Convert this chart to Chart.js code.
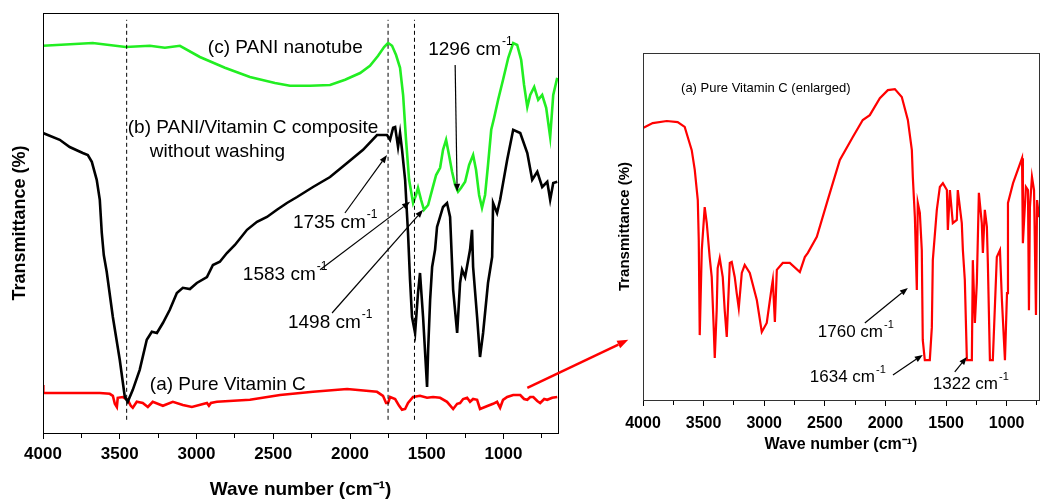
<!DOCTYPE html>
<html lang="en">
<head>
<meta charset="UTF-8">
<title>FTIR spectra - PANI / Vitamin C</title>
<script src="https://cdn.jsdelivr.net/npm/chart.js"></script>
<style>
  body { margin: 0; background: #fff; }
  #wrap { position: relative; width: 1040px; height: 504px; }
  #wrap canvas { position: absolute; left: 0; top: 0; }
</style>
</head>
<body>
<div id="wrap">
  <canvas id="mainChart" width="1040" height="504"></canvas>
  <canvas id="zoomChart" width="1040" height="504"></canvas>
</div>
<script>
// ---- values: [wavenumber (cm-1), transmittance (arb. %)] ----
const tickStep = 250;
const labelStep = 500;
const dashedBands = [3455, 1752, 1580];

// (c) PANI nanotube
const nanotubeC = [[4000,96.8],[3676,97.5],[3461,96.5],[3304,96.8],[3206,96.3],[3108,96.8],[2978,94],[2815,91.3],
  [2652,89],[2489,87.5],[2391,86.8],[2261,86.8],[2130,87],[2032,88.3],[1934,90],[1870,91.8],[1817,94.3],[1778,96.5],
  [1752,97.5],[1726,96.8],[1700,94.5],[1674,91.3],[1654,84.5],[1635,73.3],[1615,63.3],[1589,57.5],[1570,59.5],
  [1557,61.3],[1537,58.3],[1518,55.8],[1491,57],[1465,60.8],[1439,64.5],[1413,66.3],[1394,70.8],[1374,73.3],
  [1355,69.5],[1335,65.3],[1315,62],[1296,60.3],[1276,61.3],[1250,62.8],[1224,67],[1198,69.5],[1179,65.8],
  [1159,59.5],[1140,56.3],[1120,59.5],[1101,67],[1080,75.8],[1061,78.8],[1035,83.3],[1003,88.3],[969,93.8],
  [937,97.5],[911,97],[885,93.3],[866,87],[845,81.5],[826,84.5],[800,86.5],[774,83.3],[748,84.5],[722,81.3],
  [696,74],[676,84.5],[650,88.8]];

// (b) PANI/Vitamin C composite without washing
const compositeB = [[4000,75],[3891,73.3],[3826,71.5],[3741,70],[3708,69.5],[3682,67.8],[3650,63.3],[3630,58.3],
  [3617,50],[3604,44.5],[3585,40.3],[3545,29],[3500,18.3],[3467,9],[3448,7.8],[3415,10.8],[3370,15.8],[3324,23.3],
  [3291,25.3],[3258,25],[3219,27.5],[3174,30.8],[3128,35],[3089,36.3],[3043,36],[2998,37.5],[2932,39],[2893,42],
  [2848,42.8],[2802,45],[2750,47],[2671,50.8],[2606,52.8],[2541,54],[2476,55.8],[2411,57.5],[2345,59],[2241,61.5],
  [2130,64],[2019,67.5],[1915,70.8],[1824,74.5],[1759,74.5],[1739,73.3],[1719,76.3],[1706,76.5],[1687,71.5],
  [1674,75],[1661,70.8],[1641,63.3],[1622,50],[1609,38.3],[1596,29],[1576,25],[1557,35],[1544,40],[1524,29],
  [1498,11.5],[1491,20.8],[1478,33.3],[1465,41.5],[1446,45.8],[1433,51.5],[1394,56.5],[1368,57.5],[1348,54],
  [1328,35.8],[1302,25],[1283,37.5],[1270,40.8],[1250,39],[1218,45.8],[1205,50.8],[1198,41.5],[1172,29],[1153,19],
  [1133,25],[1101,37.5],[1074,44],[1068,57.5],[1042,55],[1022,58.3],[976,68.3],[937,75.8],[891,75],[845,70],
  [813,63.3],[780,65.3],[748,61.5],[715,62.8],[696,58.3],[676,62.5],[650,62.8]];

// (a) Pure Vitamin C
const pureVitC = [[4000,12],[3998,10],[3826,10],[3630,10],[3565,9.8],[3545,9.3],[3532,7.3],[3519,6.5],[3513,8.8],
  [3480,9],[3448,8.3],[3428,6.8],[3415,6.3],[3389,7.8],[3350,7.5],[3317,6.5],[3285,7.8],[3219,6.8],[3154,7.8],
  [3089,7],[3030,6.5],[2932,7.5],[2919,6.8],[2906,7.5],[2867,7.8],[2652,8.3],[2456,9.5],[2241,10.3],[2019,11],
  [1824,10.3],[1785,9.3],[1765,7.5],[1752,7.5],[1739,9],[1706,8.5],[1680,6.8],[1661,5.8],[1641,6],[1622,7.5],
  [1589,9],[1544,9.3],[1498,8.8],[1459,9],[1413,8.8],[1368,7.8],[1328,6],[1302,7.3],[1283,7.5],[1263,8.5],
  [1237,8.8],[1218,7.8],[1198,8.5],[1172,8.3],[1153,6],[1133,6.3],[1101,6.8],[1068,7.3],[1042,7.8],[1022,6.3],
  [1003,8.3],[976,9],[937,9.5],[891,9.5],[866,8.5],[845,8.3],[826,9],[806,9],[780,8],[761,7.5],[735,8.5],
  [715,8.3],[683,8.8],[650,9]];

// (a) Pure Vitamin C, enlarged
const pureVitCEnlarged = [[4000,78.4],[3920,79.8],[3804,80.4],[3714,80.1],[3656,78.7],[3631,75.8],[3598,72],
  [3573,66.3],[3548,57.6],[3540,46],[3532,18.7],[3515,43.2],[3491,55.6],[3474,51],[3450,41.2],[3433,35.4],
  [3416,20.2],[3408,12.1],[3392,25.9],[3384,38],[3367,40.9],[3342,35.4],[3326,25.9],[3309,18.2],[3284,39.5],
  [3268,39.8],[3243,35.4],[3227,30.8],[3210,26.5],[3185,36.6],[3161,38.9],[3119,36.6],[3061,28.8],[3020,19.6],
  [2979,22.2],[2938,32.6],[2929,34.6],[2912,22.5],[2896,37.5],[2847,39.5],[2789,39.5],[2706,36.9],[2665,41.2],
  [2640,42.4],[2566,47],[2483,56.8],[2434,62.5],[2376,69.2],[2269,75.8],[2187,80.7],[2129,82.1],[2046,87],
  [1980,89.3],[1922,89.6],[1865,87.3],[1815,80.7],[1782,72],[1774,64.3],[1757,52.7],[1741,31.7],[1733,56.8],
  [1716,53.9],[1700,43.2],[1692,17.3],[1675,11.5],[1634,11.5],[1617,21],[1609,40.3],[1576,54.8],[1551,61.4],
  [1526,62.5],[1493,60.5],[1485,49],[1468,60.5],[1444,51],[1411,51.9],[1403,60.5],[1370,51],[1361,43.2],
  [1345,34.6],[1328,11.5],[1287,11.5],[1279,40.3],[1262,22.2],[1246,33.7],[1229,59.7],[1205,51],[1196,42.4],
  [1180,54.8],[1163,49.9],[1155,39.5],[1138,11.5],[1114,11.5],[1081,41.2],[1055,43.2],[1039,28.8],[1014,11.5],
  [997,30.8],[989,56.8],[947,62.5],[873,69.7],[866,45.2],[841,61.4],[824,60.5],[816,25.9],[808,55.6],[791,64.3],
  [774,60.5],[758,24.5],[749,57.6],[733,52.7]];

const FONT = "'Liberation Sans', Arial, sans-serif";
Chart.defaults.font.family = FONT;
Chart.defaults.color = '#000';

const toXY = arr => arr.map(([x, y]) => ({ x: x, y: y }));

function drawLabel(ctx, text, sup, x, y, size, color) {
  ctx.fillStyle = color || '#000';
  ctx.textAlign = 'left';
  ctx.textBaseline = 'middle';
  ctx.font = size + 'px ' + FONT;
  ctx.fillText(text, x, y);
  if (sup) {
    const w = ctx.measureText(text).width;
    ctx.font = Math.round(size * 0.62) + 'px ' + FONT;
    ctx.fillText(sup, x + w + 1, y - size * 0.42);
  }
}

function drawArrow(ctx, x0, y0, x1, y1, color, width, head) {
  const ang = Math.atan2(y1 - y0, x1 - x0);
  const bx = x1 - head * Math.cos(ang), by = y1 - head * Math.sin(ang);
  const hw = head * 0.38;
  ctx.strokeStyle = color; ctx.fillStyle = color; ctx.lineWidth = width;
  ctx.beginPath(); ctx.moveTo(x0, y0); ctx.lineTo(bx, by); ctx.stroke();
  ctx.beginPath();
  ctx.moveTo(x1, y1);
  ctx.lineTo(bx + hw * Math.sin(ang), by - hw * Math.cos(ang));
  ctx.lineTo(bx - hw * Math.sin(ang), by + hw * Math.cos(ang));
  ctx.closePath(); ctx.fill();
}

// frame + text labels + arrows, placed through the chart's own scales
const notesPlugin = {
  id: 'notes',
  afterDraw(chart, args, opts) {
    const { ctx, chartArea: a, scales: { x, y } } = chart;
    const px = p => [x.getPixelForValue(p[0]), y.getPixelForValue(p[1])];
    ctx.save();
    ctx.strokeStyle = opts.frame;
    ctx.lineWidth = 1;
    ctx.strokeRect(Math.round(a.left) + 0.5, Math.round(a.top) + 0.5, Math.round(a.right - a.left), Math.round(a.bottom - a.top));
    opts.arrows.forEach(ar => {
      const f = px(ar.from), t = px(ar.to);
      drawArrow(ctx, f[0], f[1], t[0], t[1], ar.color || '#000', ar.width || 1.2, ar.head || 8);
    });
    opts.labels.forEach(l => {
      const p = px(l.at);
      drawLabel(ctx, l.text, l.sup, p[0], p[1], l.size, l.color);
    });
    ctx.restore();
  }
};

function wnAxis(min, tickSize, titleSize, height, tickPad) {
  return {
    type: 'linear', reverse: true, min: min, max: 4000,
    // ticks every 250 cm-1, labels every 500
    afterBuildTicks: s => {
      const ticks = [];
      for (let v = Math.ceil(s.min / tickStep) * tickStep; v <= s.max; v += tickStep) ticks.push({ value: v });
      s.ticks = ticks;
    },
    afterFit: s => { s.height = height; },
    ticks: {
      stepSize: tickStep, autoSkip: false, maxRotation: 0, padding: tickPad,
      font: { size: tickSize, weight: 'bold' },
      callback: v => (v % labelStep === 0 ? String(v) : '')
    },
    grid: {
      drawOnChartArea: false, tickLength: 6, color: '#000',
      tickBorderDash: c => (c.tick && c.tick.value % labelStep !== 0 ? [4, 20] : [])
    },
    border: { color: '#000', width: 1 },
    title: { display: true, text: 'Wave number (cm\u207B\u00B9)', font: { size: titleSize, weight: 'bold' }, padding: 0 }
  };
}

function tAxis(max, titleSize, pad) {
  return {
    min: 0, max: max,
    afterFit: s => { s.width = 43; },
    ticks: { display: false },
    grid: { display: false },
    border: { color: '#000', width: 1 },
    title: { display: true, text: 'Transmittance (%)', font: { size: titleSize, weight: 'bold' }, padding: { top: pad } }
  };
}

const line = (data, color, width) => ({
  data: toXY(data), borderColor: color, borderWidth: width, showLine: true,
  pointRadius: 0, tension: 0, fill: false
});

const dashSets = dashedBands.map(w => ({
  data: [{ x: w, y: 3.3 }, { x: w, y: 103.3 }], borderColor: '#000', borderWidth: 1,
  borderDash: [4, 3], showLine: true, pointRadius: 0
}));

new Chart(document.getElementById('mainChart'), {
  type: 'scatter',
  data: {
    datasets: dashSets.concat([
      line(nanotubeC, '#22ee22', 2.6),
      line(compositeB, '#000000', 2.6),
      line(pureVitC, '#ff0000', 2.6)
    ])
  },
  options: {
    responsive: false, animation: false,
    layout: { padding: { left: 0, top: 13, right: 482, bottom: 2.6 } },
    plugins: {
      legend: { display: false }, tooltip: { enabled: false },
      notes: {
        frame: '#000',
        labels: [
          { text: '(c) PANI nanotube', at: [2926, 96.3], size: 19 },
          { text: '(b) PANI/Vitamin C composite', at: [3448, 76.3], size: 19 },
          { text: 'without washing', at: [3304, 70.3], size: 19 },
          { text: '(a) Pure Vitamin C', at: [3304, 12], size: 19 },
          { text: '1296 cm', sup: '-1', at: [1491, 95.8], size: 19 },
          { text: '1735 cm', sup: '-1', at: [2372, 52.5], size: 19 },
          { text: '1583 cm', sup: '-1', at: [2698, 39.5], size: 19 },
          { text: '1498 cm', sup: '-1', at: [2404, 27.5], size: 19 }
        ],
        arrows: [
          { from: [1315, 92], to: [1302, 60.3] },
          { from: [2033, 55], to: [1759, 69.5] },
          { from: [2195, 40.8], to: [1609, 57.8] },
          { from: [2117, 30], to: [1524, 55.8] },
          { from: [845, 11.3], to: [187, 23.3], color: '#ff0000', width: 2.5, head: 11 }
        ]
      }
    },
    scales: {
      x: wnAxis(645, 17, 19, 68.4, 5),
      y: tAxis(105, 18, 9)
    }
  },
  plugins: [notesPlugin]
});

new Chart(document.getElementById('zoomChart'), {
  type: 'scatter',
  data: { datasets: [line(pureVitCEnlarged, '#ff0000', 2.2)] },
  options: {
    responsive: false, animation: false,
    layout: { padding: { left: 600, top: 53, right: 1, bottom: 49.4 } },
    plugins: {
      legend: { display: false }, tooltip: { enabled: false },
      notes: {
        frame: '#333',
        labels: [
          { text: '(a) Pure Vitamin C (enlarged)', at: [3686, 89.9], size: 13 },
          { text: '1760 cm', sup: '-1', at: [2558, 19.6], size: 17 },
          { text: '1634 cm', sup: '-1', at: [2624, 6.6], size: 17 },
          { text: '1322 cm', sup: '-1', at: [1609, 4.6], size: 17 }
        ],
        arrows: [
          { from: [2170, 22.2], to: [1815, 32.3] },
          { from: [1938, 7.2], to: [1692, 13] },
          { from: [1428, 8.1], to: [1328, 12.4] }
        ]
      }
    },
    scales: {
      x: wnAxis(733, 16, 16, 54.6, 8),
      y: tAxis(100, 15, 16)
    }
  },
  plugins: [notesPlugin]
});
</script>
</body>
</html>
